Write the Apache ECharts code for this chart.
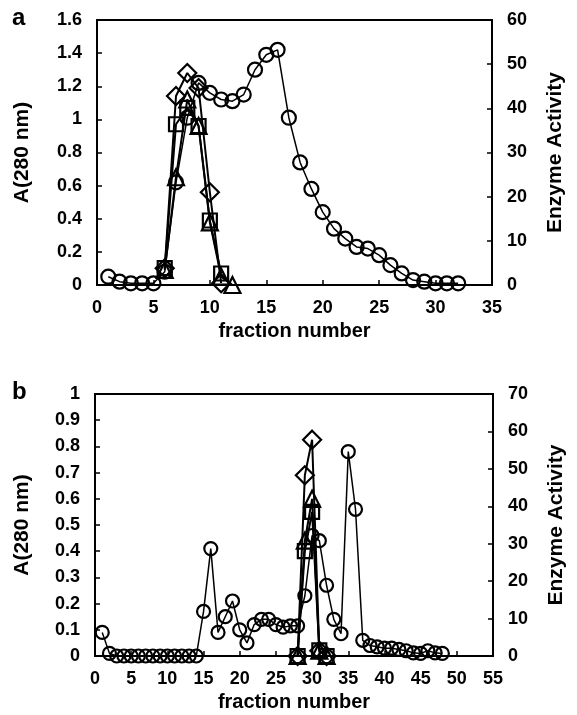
<!DOCTYPE html>
<html>
<head>
<meta charset="utf-8">
<script src="https://cdn.jsdelivr.net/npm/echarts@6/dist/echarts.min.js"></script>
<style>
  html, body { margin: 0; padding: 0; background: #fff; }
  #main { width: 577px; height: 715px; }
</style>
</head>
<body>
<div id="main"></div>
<script>
// panel a - fraction numbers and readings
const aFrac = [1,2,3,4,5,6,7,8,9,10,11,12,13,14,15,16,17,18,19,20,21,22,23,24,25,26,27,28,29,30,31,32]
const aA280 = [0.05,0.02,0.01,0.01,0.01,0.08,0.62,1.01,1.22,1.16,1.12,1.11,1.15,1.30,1.39,1.42,1.01,0.74,0.58,0.44,0.34,0.28,0.23,0.22,0.18,0.12,0.07,0.03,0.02,0.01,0.01,0.01]
const aEnzFrac = [6,7,8,9,10,11]
const aDiamond = [3.8,42.8,48.0,44.6,21.0,0.4]
const aSquare = [3.8,36.4,40.1,36.0,14.6,2.6]
const aTriFrac = [6,7,8,9,10,11,12]
const aTriangle = [3.4,24.4,42.0,36.0,14.2,1.9,0]

// panel b
const bFrac = [1,2,3,4,5,6,7,8,9,10,11,12,13,14,15,16,17,18,19,20,21,22,23,24,25,26,27,28,29,30,31,32,33,34,35,36,37,38,39,40,41,42,43,44,45,46,47,48]
const bA280 = [0.09,0.01,0,0,0,0,0,0,0,0,0,0,0,0,0.17,0.41,0.09,0.15,0.21,0.10,0.05,0.12,0.14,0.14,0.12,0.11,0.115,0.115,0.23,0.46,0.44,0.27,0.14,0.085,0.78,0.56,0.06,0.04,0.035,0.03,0.03,0.025,0.02,0.012,0.01,0.02,0.012,0.01]
const bEnzFrac = [28,29,30,31,32]
const bDiamond = [0,48.3,57.8,1.4,0]
const bSquare = [0,28.0,38.5,1.5,0]
const bTriangle = [0,30.8,42.0,1.4,0]

const font = "'Liberation Sans', Arial, sans-serif"

const pairs = (xs, ys) => xs.map((x, i) => [x, ys[i]])

const xAx = (idx, max) => ({
  type: 'value', gridIndex: idx, min: 0, max: max, interval: 5,
  name: 'fraction number', nameLocation: 'middle', nameGap: 36,
  nameTextStyle: { fontSize: 20, fontWeight: 'bold', color: '#000', fontFamily: font },
  axisLine: { lineStyle: { color: '#000', width: 2 } },
  axisTick: { inside: true, length: 5, lineStyle: { color: '#000', width: 1.5 } },
  axisLabel: { fontSize: 18, fontWeight: 'bold', color: '#000', fontFamily: font, margin: 14 },
  splitLine: { show: false }
})

const yAx = (idx, pos, max, step, name, gap) => ({
  type: 'value', gridIndex: idx, position: pos, min: 0, max: max, interval: step,
  name: name, nameLocation: 'middle', nameGap: gap, nameRotate: 90,
  nameTextStyle: { fontSize: 21, fontWeight: 'bold', color: '#000', fontFamily: font },
  axisLine: { show: true, lineStyle: { color: '#000', width: 2 } },
  axisTick: { show: true, inside: true, length: 5, lineStyle: { color: '#000', width: 1.5 } },
  axisLabel: { fontSize: 18, fontWeight: 'bold', color: '#000', fontFamily: font, margin: 15 },
  splitLine: { show: false }
})

const ser = (xi, yi, data, symbol, size, lw) => ({
  type: 'line', xAxisIndex: xi, yAxisIndex: yi, data: data,
  symbol: symbol, symbolSize: size, clip: false, z: 3,
  lineStyle: { color: '#000', width: lw },
  itemStyle: { color: 'rgba(0,0,0,0)', borderColor: '#000', borderWidth: 2.2 },
  emphasis: { disabled: true }
})

const option = {
  backgroundColor: '#fff',
  animation: false,
  textStyle: { fontFamily: font },
  graphic: [
    { type: 'text', left: 12, top: 6, style: { text: 'a', fontSize: 24, fontWeight: 'bold', fill: '#000', fontFamily: font } },
    { type: 'text', left: 12, top: 380, style: { text: 'b', fontSize: 24, fontWeight: 'bold', fill: '#000', fontFamily: font } }
  ],
  grid: [
    { left: 97, top: 20, width: 395, height: 265, show: true, borderColor: '#000', borderWidth: 2 },
    { left: 95, top: 394, width: 398, height: 262, show: true, borderColor: '#000', borderWidth: 2 }
  ],
  xAxis: [xAx(0, 35), xAx(1, 55)],
  yAxis: [
    yAx(0, 'left', 1.6, 0.2, 'A(280 nm)', 64),
    yAx(0, 'right', 60, 10, 'Enzyme Activity', 53),
    yAx(1, 'left', 1, 0.1, 'A(280 nm)', 62),
    yAx(1, 'right', 70, 10, 'Enzyme Activity', 53)
  ],
  series: [
    ser(0, 0, pairs(aFrac, aA280), 'circle', 14, 1.5),
    ser(0, 1, pairs(aEnzFrac, aDiamond), 'diamond', 18, 2),
    ser(0, 1, pairs(aEnzFrac, aSquare), 'rect', 14, 2),
    ser(0, 1, pairs(aTriFrac, aTriangle), 'triangle', 16, 2),
    ser(1, 2, pairs(bFrac, bA280), 'circle', 13, 1.5),
    ser(1, 3, pairs(bEnzFrac, bDiamond), 'diamond', 18, 2),
    ser(1, 3, pairs(bEnzFrac, bSquare), 'rect', 14, 2),
    ser(1, 3, pairs(bEnzFrac, bTriangle), 'triangle', 16, 2)
  ]
}

const myChart = echarts.init(document.getElementById('main'))
myChart.setOption(option)
</script>
</body>
</html>
